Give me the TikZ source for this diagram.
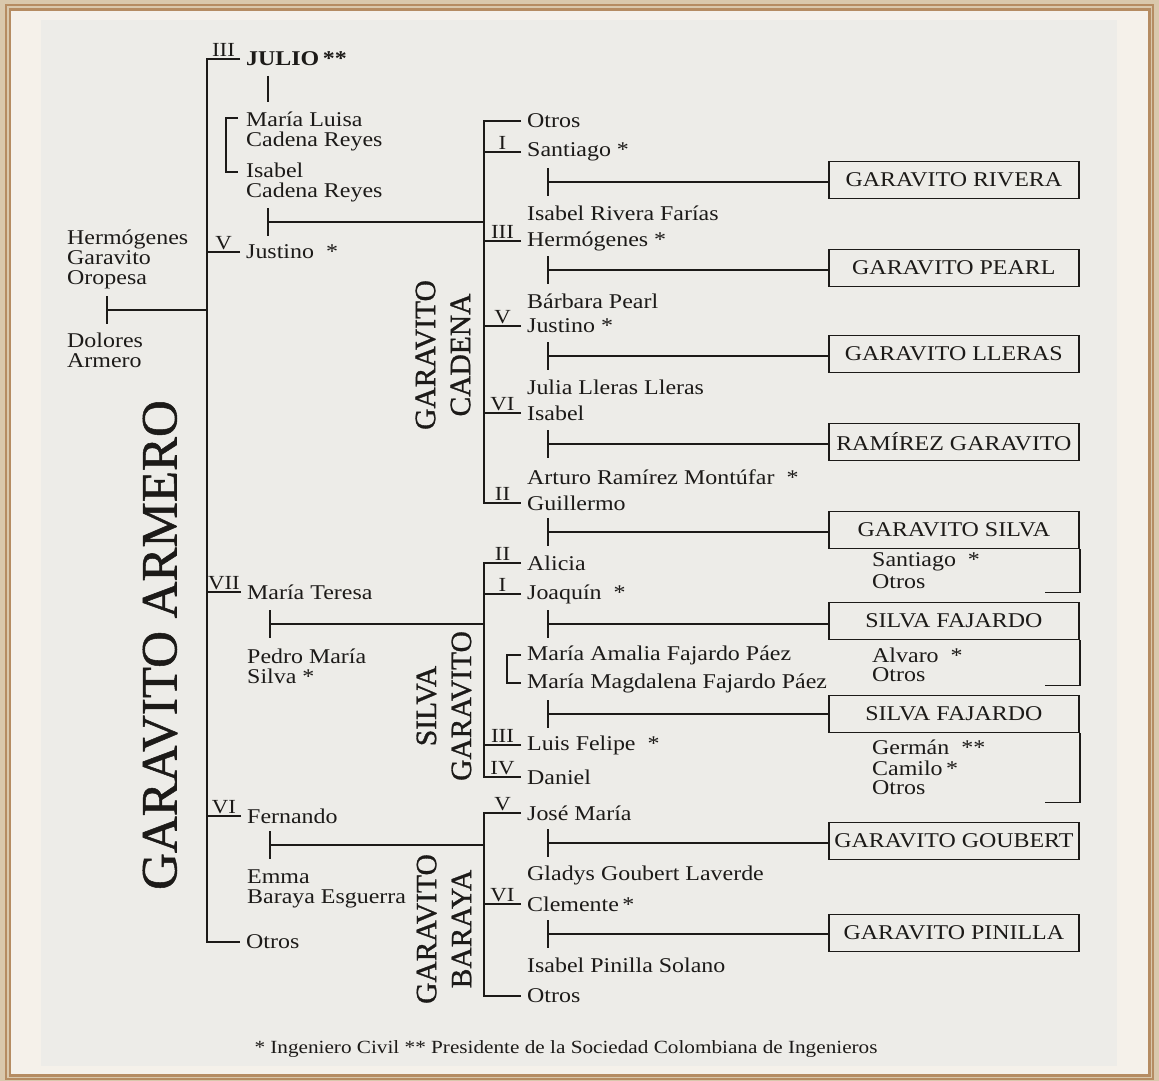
\documentclass[tikz,border=0pt]{standalone}
\usepackage{fontspec}
\setmainfont{Liberation Serif}[FakeStretch=1.14]
\newfontfamily\labelfamily{Liberation Serif}[FakeBold=1]
\usetikzlibrary{calc}

\definecolor{ink}{HTML}{1C1A18}
\definecolor{paper}{HTML}{EDECE8}
\definecolor{cream}{HTML}{F5F1EA}
\definecolor{framebrown}{HTML}{B58C62}
\definecolor{outerbg}{HTML}{D9C8AC}

\newcommand{\treefont}{\fontsize{21}{20}\selectfont}
\newcommand{\numfont}{\fontsize{20}{20}\selectfont}
\newcommand{\famfont}{\labelfamily\fontsize{29.5}{35}\selectfont}
\newcommand{\armfont}{\labelfamily\fontsize{51}{50}\selectfont}
\newcommand{\notefont}{\fontsize{18.6}{20}\selectfont}

\begin{document}
\begin{tikzpicture}[x=1pt, y=-1pt,
    tree/.style={draw=ink, line width=1.7pt},
    person/.style={anchor=west, inner xsep=6pt, inner ysep=0pt, font=\treefont, text=ink, align=left},
    gen/.style={anchor=south, inner sep=1.5pt, font=\numfont, text=ink},
    famBox/.style={draw=ink, line width=1.7pt, anchor=west, minimum width=250pt, minimum height=37pt, inner sep=0pt, font=\treefont, text=ink},
    famName/.style={rotate=90, align=center, font=\famfont, text=ink}]
    % marco
    \fill[outerbg] (0,0) rectangle (1159,1081);
    \fill[cream] (11,11) rectangle (1148,1076);
    \draw[framebrown, line width=1.5pt] (6,5) rectangle (1153,1079);
    \draw[framebrown, line width=2.5pt] (10,9.5) rectangle (1149.5,1075.5);
    \fill[paper] (41,20) rectangle (1117,1066);
    \useasboundingbox (0,0) rectangle (1159,1081);

    % tronco principal
    \node[famName, font=\armfont] (armero) at (160,645) {GARAVITO ARMERO};
    \node[person] (hgo) at (61,259) {Hermógenes\\Garavito\\Oropesa};
    \node[person] (dolores) at (61,350) {Dolores\\Armero};
    \node[person, font=\treefont\bfseries] (julio) at (240,59) {JULIO\,**};
    \node[person] (mlcr) at (240,131) {María Luisa\\Cadena Reyes};
    \node[person] (iscr) at (240,182) {Isabel\\Cadena Reyes};
    \node[person] (justino) at (240,252) {Justino\ \ *};
    \node[person] (materesa) at (241,592) {María Teresa};
    \node[person] (pedro) at (241,666) {Pedro María\\Silva *};
    \node[person] (fernando) at (241,816) {Fernando};
    \node[person] (emma) at (241,889) {Emma\\Baraya Esguerra};
    \node[person] (otrosA) at (240,942) {Otros};

    \coordinate (armTop) at (207,59);
    \draw[tree] (julio.west) -- node[gen] (gIII) {III} (julio.west -| armTop) -- (armTop |- otrosA.west) -- (otrosA.west);
    \draw[tree] (justino.west) -- node[gen] (gV) {V} (justino.west -| armTop);
    \draw[tree] (materesa.west) -- node[gen] (gVII) {VII} (materesa.west -| armTop);
    \draw[tree] (fernando.west) -- node[gen] (gVI) {VI} (fernando.west -| armTop);

    \coordinate (mHD) at (107,310);
    \draw[tree] (mHD) ++(0,-14) -- ++(0,28);
    \draw[tree] (mHD) -- (mHD -| armTop);

    \coordinate (tJulio) at (268,89);
    \draw[tree] (tJulio) ++(0,-13) -- ++(0,26);
    \coordinate (brA) at (226,118);
    \coordinate (brB) at (226,172);
    \draw[tree] ([xshift=12pt]brA) -- (brA) -- (brB) -- ([xshift=12pt]brB);

    % garavito cadena
    \node[famName] (cadena) at (443,355) {GARAVITO\\CADENA};
    \coordinate (cadTop) at (484,121);
    \node[person] (otrosC) at (521,121) {Otros};
    \node[person] (santiagoC) at (521,152) {Santiago *};
    \node[person] (isabelRF) at (521,213) {Isabel Rivera Farías};
    \node[person] (hermC) at (521,241) {Hermógenes *};
    \node[person] (barbara) at (521,301) {Bárbara Pearl};
    \node[person] (justinoC) at (521,326) {Justino *};
    \node[person] (julia) at (521,387) {Julia Lleras Lleras};
    \node[person] (isabelC) at (521,413) {Isabel};
    \node[person] (arturo) at (521,477) {Arturo Ramírez Montúfar\ \ *};
    \node[person] (guillermo) at (521,503) {Guillermo};

    \draw[tree] (otrosC.west) -- (otrosC.west -| cadTop) -- (cadTop |- guillermo.west) -- node[gen] (gIIc) {II} (guillermo.west);
    \draw[tree] (santiagoC.west) -- node[gen] (gIc) {I} (santiagoC.west -| cadTop);
    \draw[tree] (hermC.west) -- node[gen] (gIIIc) {III} (hermC.west -| cadTop);
    \draw[tree] (justinoC.west) -- node[gen] (gVc) {V} (justinoC.west -| cadTop);
    \draw[tree] (isabelC.west) -- node[gen] (gVIc) {VI} (isabelC.west -| cadTop);

    \coordinate (mJC) at (268,222);
    \draw[tree] (mJC) ++(0,-14) -- ++(0,28);
    \draw[tree] (mJC) -- (mJC -| cadTop);

    \node[famBox] (bRivera) at (828,180) {GARAVITO RIVERA};
    \node[famBox] (bPearl) at (828,268) {GARAVITO PEARL};
    \node[famBox] (bLleras) at (828,354) {GARAVITO LLERAS};
    \node[famBox] (bRamirez) at (828,442) {RAMÍREZ GARAVITO};
    \node[famBox] (bSilva) at (828,530) {GARAVITO SILVA};

    \coordinate (tRivera) at (548,182);
    \coordinate (tPearl) at (548,270);
    \coordinate (tLleras) at (548,356);
    \coordinate (tRamirez) at (548,444);
    \coordinate (tSilva) at (548,532);
    \foreach \t/\b in {tRivera/bRivera, tPearl/bPearl, tLleras/bLleras, tRamirez/bRamirez, tSilva/bSilva} {
        \draw[tree] (\t) ++(0,-14) -- ++(0,28);
        \draw[tree] (\t) -- (\t -| \b.west);
    }

    \node[person] (santiagoS) at (866,562) {Santiago\ \ *};
    \node[person] (otrosS) at (866,582) {Otros};
    \draw[tree] (bSilva.south east) -- ++(0,43) -- ++(-35,0);

    % silva garavito
    \node[famName] (silva) at (444,706) {SILVA\\GARAVITO};
    \coordinate (silTop) at (484,563);
    \node[person] (alicia) at (521,563) {Alicia};
    \node[person] (joaquin) at (521,594) {Joaquín\ \ *};
    \node[person] (mAmalia) at (521,655) {María Amalia Fajardo Páez};
    \node[person] (mMagda) at (521,683) {María Magdalena Fajardo Páez};
    \node[person] (luis) at (521,745) {Luis Felipe\ \ *};
    \node[person] (daniel) at (521,777) {Daniel};

    \draw[tree] (alicia.west) -- node[gen] (gIIs) {II} (alicia.west -| silTop) -- (silTop |- daniel.west) -- node[gen] (gIVs) {IV} (daniel.west);
    \draw[tree] (joaquin.west) -- node[gen] (gIs) {I} (joaquin.west -| silTop);
    \draw[tree] (luis.west) -- node[gen] (gIIIs) {III} (luis.west -| silTop);

    \coordinate (brC) at (507,670);
    \draw[tree] (mAmalia.west) -- (mAmalia.west -| brC) -- (brC |- mMagda.west) -- (mMagda.west);

    \coordinate (mPM) at (270,624);
    \draw[tree] (mPM) ++(0,-14) -- ++(0,28);
    \draw[tree] (mPM) -- (mPM -| silTop);

    \node[famBox] (bFajA) at (828,621) {SILVA FAJARDO};
    \node[famBox] (bFajB) at (828,714) {SILVA FAJARDO};
    \coordinate (tFajA) at (548,624);
    \coordinate (tFajB) at (548,714);
    \foreach \t/\b in {tFajA/bFajA, tFajB/bFajB} {
        \draw[tree] (\t) ++(0,-14) -- ++(0,28);
        \draw[tree] (\t) -- (\t -| \b.west);
    }

    \node[person] (alvaro) at (866,655) {Alvaro\ \ *};
    \node[person] (otrosF) at (866,675) {Otros};
    \draw[tree] (bFajA.south east) -- ++(0,45) -- ++(-35,0);

    \node[person] (german) at (866,747) {Germán\ \ **};
    \node[person] (camilo) at (866,768) {Camilo\,*};
    \node[person] (otrosG) at (866,788) {Otros};
    \draw[tree] (bFajB.south east) -- ++(0,69) -- ++(-35,0);

    % garavito baraya
    \node[famName] (baraya) at (444,929) {GARAVITO\\BARAYA};
    \coordinate (barTop) at (484,813);
    \node[person] (jose) at (521,813) {José María};
    \node[person] (gladys) at (521,875) {Gladys Goubert Laverde};
    \node[person] (clemente) at (521,904) {Clemente\,*};
    \node[person] (isabelP) at (521,965) {Isabel Pinilla Solano};
    \node[person] (otrosB) at (521,996) {Otros};

    \draw[tree] (jose.west) -- node[gen] (gVb) {V} (jose.west -| barTop) -- (barTop |- otrosB.west) -- (otrosB.west);
    \draw[tree] (clemente.west) -- node[gen] (gVIb) {VI} (clemente.west -| barTop);

    \coordinate (mFE) at (270,845);
    \draw[tree] (mFE) ++(0,-14) -- ++(0,28);
    \draw[tree] (mFE) -- (mFE -| barTop);

    \node[famBox] (bGoubert) at (828,841) {GARAVITO GOUBERT};
    \node[famBox] (bPinilla) at (828,933) {GARAVITO PINILLA};
    \coordinate (tGoubert) at (548,843);
    \coordinate (tPinilla) at (548,934);
    \foreach \t/\b in {tGoubert/bGoubert, tPinilla/bPinilla} {
        \draw[tree] (\t) ++(0,-14) -- ++(0,28);
        \draw[tree] (\t) -- (\t -| \b.west);
    }

    \node[font=\notefont, text=ink] (nota) at (566,1049) {* Ingeniero Civil ** Presidente de la Sociedad Colombiana de Ingenieros};
\end{tikzpicture}
\end{document}
